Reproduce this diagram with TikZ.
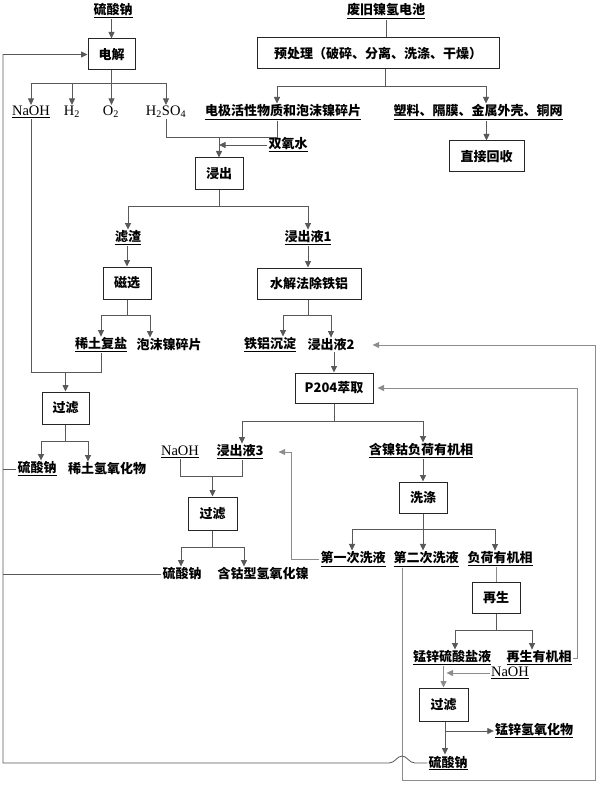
\documentclass[tikz,border=0pt]{standalone}
\usepackage{fontspec}
\setmainfont{Liberation Serif}
\newfontfamily\cjk{Noto Sans CJK SC}
\usetikzlibrary{arrows.meta}
\begin{document}
\begin{tikzpicture}[x=1pt,y=-1pt,
 ln/.style={draw=black!65, line width=0.8pt},
 lt/.style={draw=black!45, line width=0.8pt},
 arr/.style={-{Triangle[width=6pt,length=6.5pt]}},
 box/.style={draw=black!85, line width=1pt, font=\cjk\bfseries\fontsize{13}{15}\selectfont, minimum height=31pt, inner sep=0pt, align=center},
 cn/.style={font=\cjk\bfseries\fontsize{13}{15}\selectfont, inner sep=1pt},
 lat/.style={font=\fontsize{14.5}{16}\selectfont, inner sep=1pt},
]
\path[use as bounding box] (0,0) rectangle (599,786);

% ---------- nodes ----------
\node[cn] (s0) at (113,11) {\underline{硫酸钠}};
\node[box, minimum width=47pt] (elec) at (111.5,54.5) {电解};
\node[cn] (waste) at (386,11) {\underline{废旧镍氢电池}};
\node[box, minimum width=242pt] (pre) at (378,53.5) {预处理（破碎、分离、洗涤、干燥）};

\node[lat] (naoh1) at (31,112) {\underline{NaOH}};
\node[lat] (h2) at (72,112) {H\textsubscript{2}};
\node[lat] (o2) at (111,112) {O\textsubscript{2}};
\node[lat] (h2so4) at (166,112) {H\textsubscript{2}SO\textsubscript{4}};
\node[cn] (active) at (283,112) {\underline{电极活性物质和泡沫镍碎片}};
\node[cn] (plastic) at (478,112) {\underline{塑料、隔膜、金属外壳、铜网}};
\node[box, minimum width=75pt] (direct) at (486.5,156.5) {直接回收};
\node[cn] (h2o2) at (288,145) {\underline{双氧水}};
\node[box, minimum width=48pt, minimum height=32pt] (leach) at (219,174) {浸出};

\node[cn] (residue) at (128,238) {\underline{滤渣}};
\node[cn] (leach1) at (308,238) {\underline{浸出液1}};
\node[box, minimum width=48pt, minimum height=32pt] (mag) at (127,283) {磁选};
\node[box, minimum width=104pt] (hydro) at (309,283.5) {水解法除铁铝};
\node[cn] (reSalt) at (101,345) {\underline{稀土复盐}};
\node[cn] (foamNi) at (169,345) {泡沫镍碎片};
\node[cn] (feAl) at (270,345) {\underline{铁铝沉淀}};
\node[cn] (leach2) at (331,345) {浸出液2};

\node[box, minimum width=47pt, minimum height=32pt] (filt1) at (65.5,408) {过滤};
\node[cn] (na2a) at (37,469) {\underline{硫酸钠}};
\node[cn] (reOH) at (107,469) {稀土氢氧化物};

\node[box, minimum width=78pt, minimum height=30pt] (p204) at (334,388) {P204萃取};
\node[lat] (naoh2) at (180,452) {\underline{NaOH}};
\node[cn] (leach3) at (240,452) {\underline{浸出液3}};
\node[cn] (loaded) at (421,451) {\underline{含镍钴负荷有机相}};
\node[box, minimum width=48pt] (wash) at (423,497.5) {洗涤};
\node[box, minimum width=49pt, minimum height=33pt] (filt2) at (212.5,513.5) {过滤};
\node[cn] (na2b) at (182,574) {硫酸钠};
\node[cn] (coNi) at (263,574) {含钴型氢氧化镍};
\node[cn] (wash1) at (353,559) {\underline{第一次洗液}};
\node[cn] (wash2) at (426,559) {\underline{第二次洗液}};
\node[cn] (loadorg) at (500,559) {\underline{负荷有机相}};
\node[box, minimum width=48pt] (regen) at (496,597.5) {再生};
\node[cn] (mnzn) at (452,658) {\underline{锰锌硫酸盐液}};
\node[cn] (regorg) at (539,658) {\underline{再生有机相}};
\node[lat] (naoh3) at (510,673) {\underline{NaOH}};
\node[box, minimum width=49pt, minimum height=33pt] (filt3) at (443.5,704.5) {过滤};
\node[cn] (mnznOH) at (534,731) {\underline{锰锌氢氧化物}};
\node[cn] (na2c) at (448,763) {\underline{硫酸钠}};

% ---------- junction coordinates ----------
\coordinate (Ltop) at (3,54.5);
\coordinate (Lbot) at (3,763);
\coordinate (ej) at (111.5,83);
\coordinate (pj) at (385,86);
\coordinate (lj) at (219,137);
\coordinate (lj2) at (219,206);
\coordinate (mj) at (127,315);
\coordinate (hj) at (308,315);
\coordinate (fj) at (65.5,372);
\coordinate (f1j) at (65.5,441);
\coordinate (pj2) at (334,421);
\coordinate (nj) at (212.5,476);
\coordinate (f2j) at (212.5,547);
\coordinate (wj) at (423,529);
\coordinate (rj) at (496,630);
\coordinate (rr) at (577,655);
\coordinate (br) at (595,780);
\coordinate (f3j) at (445,731);
\coordinate (hopR) at (415,763);
\coordinate (hopT) at (402,756);
\coordinate (hopL) at (389,763);

% ---------- connectors ----------
\draw[ln,arr] (s0.south -| elec.north) -- (elec.north);
\draw[ln] (elec.south) -- (ej);
\draw[ln,arr] (ej) -| (naoh1.north);
\draw[ln,arr] (ej) -| (h2.north);
\draw[ln,arr] (ej) -- (o2.north -| ej);
\draw[ln,arr] (ej) -| (h2so4.north);

\draw[ln] (waste.south) -- (waste.south |- pre.north);
\draw[ln] (pre.south -| pj) -- (pj);
\draw[ln,arr] (pj) -| ([xshift=-6pt]active.north);
\draw[ln,arr] (pj) -| ([xshift=8pt]plastic.north);
\draw[ln,arr] (plastic.south -| direct.north) -- (direct.north);

\draw[ln] ([xshift=-6pt]active.south) |- (lj);
\draw[ln] (h2so4.south) |- (lj);
\draw[ln,arr] (lj) -- (leach.north);
\draw[ln,arr] (h2o2.west) -- (h2o2.west -| leach.north);

\draw[ln] (leach.south) -- (lj2);
\draw[ln,arr] (lj2) -| (residue.north);
\draw[ln,arr] (lj2) -| (leach1.north);
\draw[ln,arr] (mag.north |- residue.south) -- (mag.north);
\draw[ln,arr] (leach1.south) -- (leach1.south |- hydro.north);

\draw[ln] (mag.south) -- (mj);
\draw[ln,arr] (mj) -| (reSalt.north);
\draw[ln,arr] (mj) -| ([xshift=-19pt]foamNi.north);
\draw[ln] (hydro.south -| hj) -- (hj);
\draw[ln,arr] (hj) -| ([xshift=13pt]feAl.north);
\draw[ln,arr] (hj) -| (leach2.north);

\draw[ln] (naoh1.south) |- (reSalt.south |- fj) -- (reSalt.south);
\draw[ln,arr] (fj) -- (filt1.north);
\draw[ln] (filt1.south) -- (f1j);
\draw[ln,arr] (f1j) -| ([xshift=4pt]na2a.north);
\draw[ln,arr] (f1j) -| ([xshift=-19pt]reOH.north);
\draw[ln] (na2a.west) -- (na2a.west -| Ltop);

\draw[ln,arr] (p204.north |- leach2.south) -- (p204.north);
\draw[ln] (p204.south) -- (pj2);
\draw[ln,arr] (pj2) -| ([xshift=2pt]leach3.north);
\draw[ln,arr] (pj2) -| ([xshift=2pt]loaded.north);

\draw[ln] (naoh2.south) |- (nj);
\draw[ln] ([xshift=2pt]leach3.south) |- (nj);
\draw[ln,arr] (nj) -- (filt2.north);
\draw[ln] (filt2.south) -- (f2j);
\draw[ln,arr] (f2j) -| ([xshift=-1pt]na2b.north);
\draw[ln,arr] (f2j) -| ([xshift=-19pt]coNi.north);
\draw[ln] (na2b.west) -- (na2b.west -| Ltop);

\draw[lt,arr] (wash1.west) -- ++(-28,0) |- ([xshift=14pt]leach3.east);

\draw[ln,arr] (wash.north |- loaded.south) -- (wash.north);
\draw[ln] (wash.south) -- (wj);
\draw[ln,arr] (wj) -| ([xshift=-1pt]wash1.north);
\draw[ln,arr] (wj) -- (wj |- wash2.north);
\draw[ln,arr] (wj) -| ([xshift=-5pt]loadorg.north);
\draw[lt] (regen.north |- loadorg.south) -- (regen.north);

\draw[lt,arr] ([xshift=-24pt]wash2.south) |- (br) |- ([xshift=17pt]leach2.east);

\draw[ln] (regen.south) -- (rj);
\draw[ln,arr] (rj) -| ([xshift=3pt]mnzn.north);
\draw[ln,arr] (rj) -| ([xshift=-7pt]regorg.north);
\draw[lt,arr] (regorg.east) -- (rr |- regorg.east) |- ([xshift=4pt]p204.east);

\draw[lt,arr] (filt3.north |- mnzn.south) -- (filt3.north);
\draw[lt,arr] (naoh3.west) -- ([xshift=3pt]naoh3.west -| filt3.north);
\draw[ln] (filt3.south -| f3j) -- (f3j);
\draw[ln,arr] (f3j) -- (na2c.north -| f3j);
\draw[ln,arr] (f3j) -- (mnznOH.west);

\draw[ln,arr] (na2c.west) -- (hopR) .. controls +(-6,0) and +(5,0) .. (hopT) .. controls +(-5,0) and +(6,0) .. (hopL) -- (Lbot) -- (Ltop) -- (elec.west);
\end{tikzpicture}
\end{document}
